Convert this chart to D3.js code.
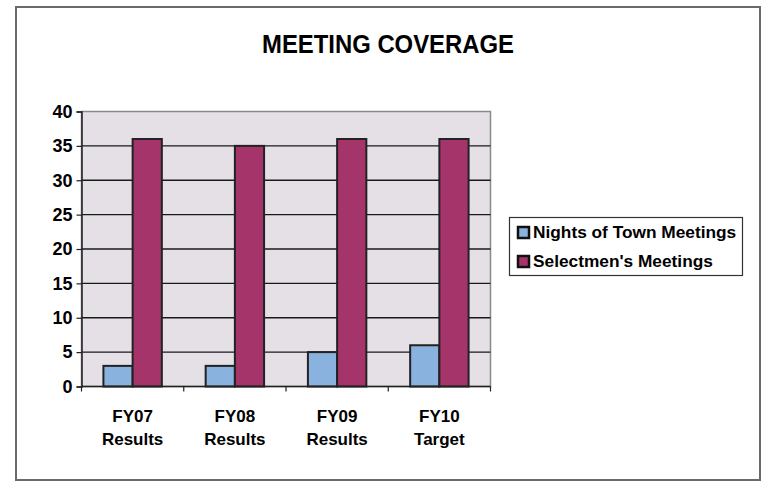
<!DOCTYPE html>
<html>
<head>
<meta charset="utf-8">
<script src="https://cdn.jsdelivr.net/npm/d3@7"></script>
<style>
  body { margin: 0; background: #fff; }
  text { font-family: "Liberation Sans", Arial, sans-serif; }
</style>
</head>
<body>
<div id="chart"></div>
<script>
(function () {

  // chart data
  const categories = [['FY07', 'Results'], ['FY08', 'Results'], ['FY09', 'Results'], ['FY10', 'Target']];
  const seriesNames = ['Nights of Town Meetings', "Selectmen's Meetings"];
  const townMeetings = [3, 3, 5, 6];
  const selectmenMeetings = [36, 35, 36, 36];
  const yTicks = [0, 5, 10, 15, 20, 25, 30, 35, 40];

  const colors = ['#8ab2df', '#a5346a'];

  const width = 766, height = 482;
  const plot = { left: 81.5, top: 111.5, right: 490.5, bottom: 386.5 };

  const svg = d3.select('#chart')
    .append('svg')
    .attr('width', width)
    .attr('height', height);

  // outer chart frame
  svg.append('rect')
    .attr('x', 16).attr('y', 7)
    .attr('width', 744).attr('height', 473)
    .attr('fill', '#fff')
    .attr('stroke', '#6a6a6a')
    .attr('stroke-width', 2);

  // title
  svg.append('text')
    .attr('x', 388).attr('y', 53)
    .attr('text-anchor', 'middle')
    .style('font-size', '25px')
    .style('font-weight', 'bold')
    .attr('textLength', 252)
    .attr('lengthAdjust', 'spacingAndGlyphs')
    .text('MEETING COVERAGE');

  const y = d3.scaleLinear()
    .domain([0, 40])
    .range([plot.bottom, plot.top]);

  const labels = categories.map(c => c.join(' '));
  const x0 = d3.scaleBand()
    .domain(labels)
    .range([plot.left, plot.right])
    .paddingInner(1.5 / 3.5)
    .paddingOuter(0.75 / 3.5);

  const x1 = d3.scaleBand()
    .domain(seriesNames)
    .range([0, x0.bandwidth()]);

  // plot background
  svg.append('rect')
    .attr('x', plot.left).attr('y', plot.top)
    .attr('width', plot.right - plot.left)
    .attr('height', plot.bottom - plot.top)
    .attr('fill', '#e4e0e6')
    .attr('stroke', '#8a8a8a')
    .attr('stroke-width', 1.5);

  // gridlines
  svg.append('g')
    .selectAll('line')
    .data(yTicks.filter(d => d > 0 && d < 40))
    .join('line')
    .attr('x1', plot.left).attr('x2', plot.right)
    .attr('y1', d => y(d)).attr('y2', d => y(d))
    .attr('stroke', '#1a1a1a')
    .attr('stroke-width', 1.4);

  // bars
  const rows = labels.map((c, i) => ({ cat: c, values: [townMeetings[i], selectmenMeetings[i]] }));
  svg.append('g')
    .selectAll('g')
    .data(rows)
    .join('g')
    .attr('transform', d => `translate(${x0(d.cat)},0)`)
    .selectAll('rect')
    .data(d => d.values.map((v, j) => ({ key: seriesNames[j], value: v, j })))
    .join('rect')
    .attr('x', d => x1(d.key))
    .attr('y', d => y(d.value))
    .attr('width', x1.bandwidth())
    .attr('height', d => y(0) - y(d.value))
    .attr('fill', d => colors[d.j])
    .attr('stroke', '#222')
    .attr('stroke-width', 2);

  // y axis
  const yAxis = svg.append('g')
    .attr('transform', `translate(${plot.left},0)`)
    .call(d3.axisLeft(y).tickValues(yTicks).tickSize(5).tickPadding(4));
  yAxis.select('.domain').attr('stroke', '#222').attr('stroke-width', 1.5);
  yAxis.selectAll('.tick line').attr('stroke', '#222').attr('stroke-width', 1.2);
  yAxis.selectAll('.tick text')
    .style('font-size', '18px')
    .style('font-weight', 'bold')
    .style('font-family', '"Liberation Sans", Arial, sans-serif')
    .attr('fill', '#000');

  // x axis with tick marks between categories
  const step = x0.step();
  const xAxis = svg.append('g')
    .attr('transform', `translate(0,${plot.bottom})`);
  xAxis.append('line')
    .attr('x1', plot.left).attr('x2', plot.right)
    .attr('stroke', '#222').attr('stroke-width', 1.5);
  xAxis.selectAll('line.tick')
    .data(d3.range(labels.length + 1))
    .join('line')
    .attr('class', 'tick')
    .attr('x1', i => plot.left + i * step).attr('x2', i => plot.left + i * step)
    .attr('y1', 0).attr('y2', 5)
    .attr('stroke', '#222').attr('stroke-width', 1.2);

  const cx = (d, i) => x0(labels[i]) + x0.bandwidth() / 2;
  const catText = xAxis.selectAll('text')
    .data(categories)
    .join('text')
    .attr('x', cx)
    .attr('text-anchor', 'middle')
    .style('font-size', '17px')
    .style('font-weight', 'bold')
    .attr('fill', '#000');
  catText.append('tspan').attr('x', cx).attr('y', 35).text(d => d[0]);
  catText.append('tspan').attr('x', cx).attr('y', 58.5).text(d => d[1]);

  // legend
  const legend = svg.append('g');
  legend.append('rect')
    .attr('x', 509.5).attr('y', 217.5)
    .attr('width', 233).attr('height', 58)
    .attr('fill', '#fff')
    .attr('stroke', '#333')
    .attr('stroke-width', 1.2);
  const items = legend.selectAll('g')
    .data(seriesNames)
    .join('g')
    .attr('transform', (d, i) => `translate(518,${238 + i * 29})`);
  items.append('rect')
    .attr('x', 0).attr('y', -11)
    .attr('width', 11).attr('height', 11)
    .attr('fill', (d, i) => colors[i])
    .attr('stroke', '#111')
    .attr('stroke-width', 2.5);
  items.append('text')
    .attr('x', 15).attr('y', 0)
    .style('font-size', '17.3px')
    .style('font-weight', 'bold')
    .attr('fill', '#000')
    .text(d => d);

})();
</script>
</body>
</html>
